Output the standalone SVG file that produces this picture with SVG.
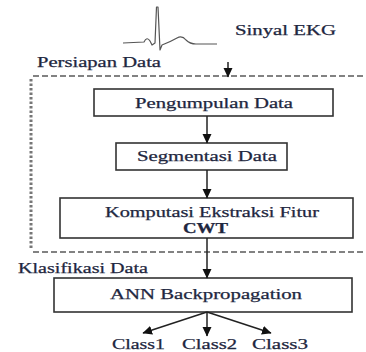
<svg xmlns="http://www.w3.org/2000/svg" width="366" height="352" viewBox="0 0 366 352">
  <style>
    text { font-family: 'Liberation Serif', 'DejaVu Serif', serif; }
    .lbl { font-size: 14px; fill: #1e2740; stroke: #1e2740; stroke-width: 0.25; }
    .b { font-weight: bold; }
    .box { fill: #ffffff; stroke: #333333; stroke-width: 1.6; }
    .dash { fill: none; stroke: #5a5a5a; stroke-width: 1.5; stroke-dasharray: 6 3; }
    .dot { fill: none; stroke: #777777; stroke-width: 3; stroke-dasharray: 2.5 2; }
    .edge { fill: none; stroke: #222222; stroke-width: 1.5; marker-end: url(#head); }
    .ecg { fill: none; stroke: #555555; stroke-width: 1.2; stroke-linejoin: round; }
  </style>
  <defs>
    <marker id="head" markerUnits="userSpaceOnUse" markerWidth="10" markerHeight="10" viewBox="0 0 10 10" refX="9" refY="5" orient="auto">
      <path d="M0,0.5 L9.5,5 L0,9.5 Z" fill="#111111"/>
    </marker>
  </defs>

  <rect width="366" height="352" fill="#ffffff"/>

  <!-- ECG trace -->
  <g id="ecg-signal">
    <path class="ecg" d="M123,43 L144,42 Q147,36 150,41 L152,45 L155,43 L156.5,7 L158,7 L160,50 L162,45 Q170,42 177,38 Q182,35 186,40 Q190,44 196,44 L217,44"/>
    <text class="lbl" font-family="Liberation Serif, DejaVu Serif, serif" x="235" y="35" textLength="101" lengthAdjust="spacingAndGlyphs">Sinyal EKG</text>
  </g>

  <!-- preparation stage frame -->
  <g id="frame-persiapan">
    <path class="dash" d="M33,76 H366"/>
    <path class="dash" d="M33,252 H366"/>
    <path class="dot" d="M31,79 V250"/>
    <text class="lbl" font-family="Liberation Serif, DejaVu Serif, serif" x="37" y="67" textLength="124" lengthAdjust="spacingAndGlyphs">Persiapan Data</text>
  </g>

  <g id="label-klasifikasi">
    <text class="lbl" font-family="Liberation Serif, DejaVu Serif, serif" x="18" y="273" textLength="130" lengthAdjust="spacingAndGlyphs">Klasifikasi Data</text>
  </g>

  <g id="node-pengumpulan">
    <rect class="box" x="94" y="89" width="239" height="27"/>
    <text class="lbl" font-family="Liberation Serif, DejaVu Serif, serif" x="135" y="108" textLength="158" lengthAdjust="spacingAndGlyphs">Pengumpulan Data</text>
  </g>

  <g id="node-segmentasi">
    <rect class="box" x="116" y="143" width="171" height="27"/>
    <text class="lbl" font-family="Liberation Serif, DejaVu Serif, serif" x="137" y="161" textLength="140" lengthAdjust="spacingAndGlyphs">Segmentasi Data</text>
  </g>

  <g id="node-komputasi">
    <rect class="box" x="60" y="198" width="293" height="40"/>
    <text class="lbl" font-family="Liberation Serif, DejaVu Serif, serif" x="105" y="217" textLength="214" lengthAdjust="spacingAndGlyphs">Komputasi Ekstraksi Fitur</text>
    <text class="lbl b" font-family="Liberation Serif, DejaVu Serif, serif" x="183" y="233" textLength="45" lengthAdjust="spacingAndGlyphs">CWT</text>
  </g>

  <g id="node-ann">
    <rect class="box" x="54" y="278" width="298" height="34"/>
    <text class="lbl" font-family="Liberation Serif, DejaVu Serif, serif" x="110" y="299" textLength="192" lengthAdjust="spacingAndGlyphs">ANN Backpropagation</text>
  </g>

  <g id="node-classes">
    <text class="lbl" font-family="Liberation Serif, DejaVu Serif, serif" x="112" y="349" textLength="53" lengthAdjust="spacingAndGlyphs">Class1</text>
    <text class="lbl" font-family="Liberation Serif, DejaVu Serif, serif" x="182" y="349" textLength="55" lengthAdjust="spacingAndGlyphs">Class2</text>
    <text class="lbl" font-family="Liberation Serif, DejaVu Serif, serif" x="252" y="349" textLength="56" lengthAdjust="spacingAndGlyphs">Class3</text>
  </g>

  <g id="connectors">
    <path class="edge" d="M228,62 V77"/>
    <path class="edge" d="M207,116 V143"/>
    <path class="edge" d="M207,170 V198"/>
    <path class="edge" d="M207,238 V278"/>
    <path class="edge" d="M207,312 L143,333"/>
    <path class="edge" d="M207,312 V336"/>
    <path class="edge" d="M207,312 L271,333"/>
  </g>
</svg>
